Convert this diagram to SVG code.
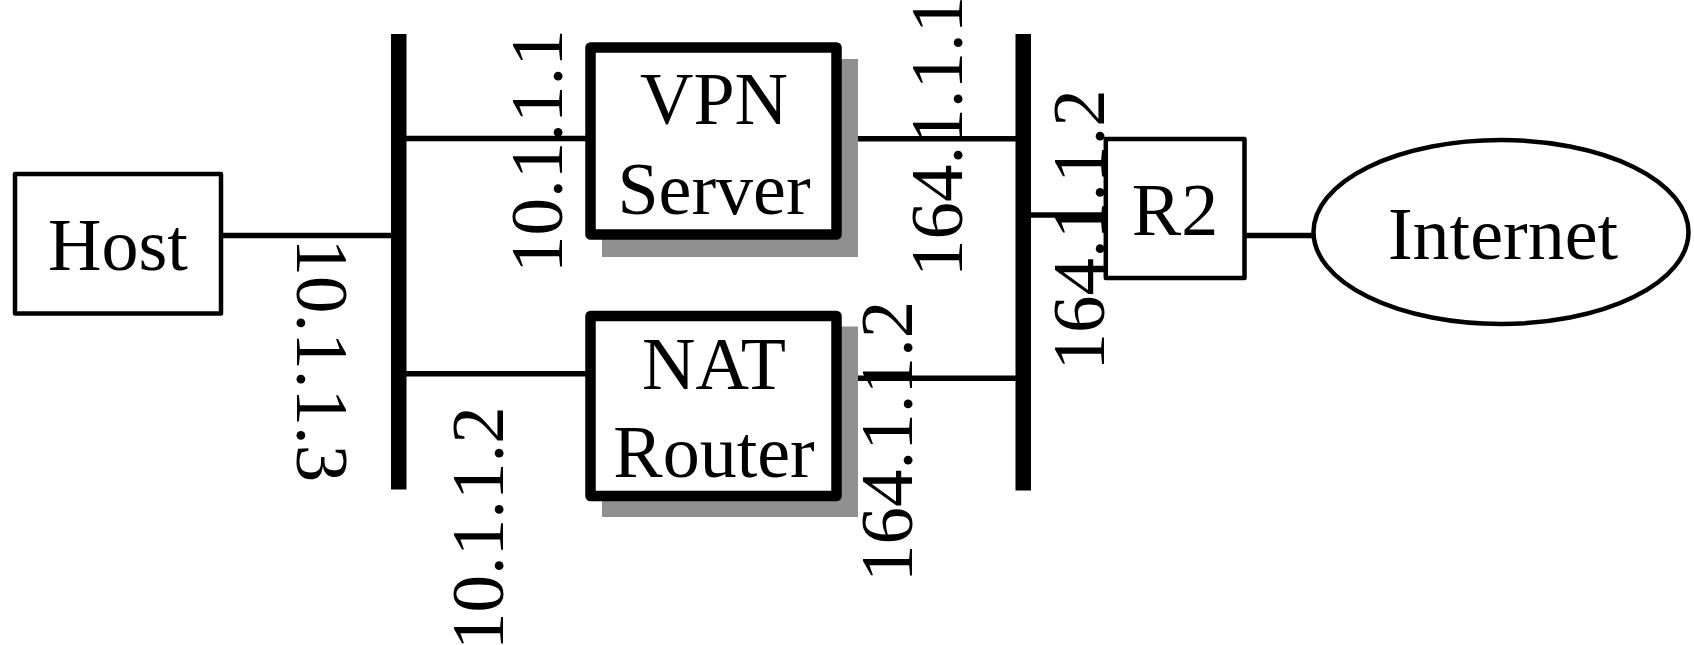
<svg xmlns="http://www.w3.org/2000/svg" width="1694" height="645" viewBox="0 0 1694 645">
<style>
  text { font-family: "Liberation Serif", "Times New Roman", serif; fill: #000; }
  .node { font-size: 74px; text-anchor: middle; }
  .ip { font-size: 75px; }
  .wire { stroke: #000; stroke-width: 5.5; fill: none; }
  .thin { fill: #fff; stroke: #000; stroke-width: 4.5; stroke-linejoin: round; }
  .thick { fill: #fff; stroke: #000; stroke-width: 10.5; stroke-linejoin: round; }
  .shadow { fill: #909090; }
  .bus { fill: #000; }
</style>
<g id="connectors">
  <line class="wire" x1="221" y1="235.5" x2="392" y2="235.5"/>
  <line class="wire" x1="405" y1="138.5" x2="590" y2="138.5"/>
  <line class="wire" x1="405" y1="373.7" x2="590" y2="373.7"/>
  <line class="wire" x1="836" y1="138.8" x2="1016" y2="138.8"/>
  <line class="wire" x1="836" y1="378.3" x2="1016" y2="378.3"/>
  <line class="wire" x1="1030" y1="215" x2="1106" y2="215"/>
  <line class="wire" x1="1244" y1="235.5" x2="1314" y2="235.5"/>
</g>
<g id="lan1"><rect class="bus" x="391" y="34" width="15.5" height="455.5"/></g>
<g id="lan2"><rect class="bus" x="1015.5" y="34" width="15.5" height="456.5"/></g>
<g id="host">
  <rect class="thin" x="15" y="174" width="206" height="139.5"/>
  <text class="node" x="118" y="270">Host</text>
</g>
<g id="vpn">
  <rect class="shadow" x="602" y="59" width="256" height="198"/>
  <rect class="thick" x="590.5" y="47.5" width="246" height="187"/>
  <text class="node" x="714" y="124">VPN</text>
  <text class="node" x="714" y="214">Server</text>
</g>
<g id="nat">
  <rect class="shadow" x="602" y="326.5" width="256" height="190.5"/>
  <rect class="thick" x="590.5" y="316" width="246" height="180"/>
  <text class="node" x="714" y="388.7">NAT</text>
  <text class="node" x="714" y="477">Router</text>
</g>
<g id="r2">
  <rect class="thin" x="1105.8" y="139" width="138.7" height="139"/>
  <text class="node" x="1175" y="235.3">R2</text>
</g>
<g id="internet">
  <ellipse class="thin" cx="1501" cy="232" rx="187.5" ry="92"/>
  <text class="node" x="1503" y="259">Internet</text>
</g>
<g id="labels">
  <text class="ip" transform="translate(297,238.4) rotate(90)">10.1.1.3</text>
  <text class="ip" transform="translate(562,273) rotate(-90)">10.1.1.1</text>
  <text class="ip" transform="translate(503,650) rotate(-90)">10.1.1.2</text>
  <text class="ip" transform="translate(961.5,277) rotate(-90)">164.1.1.1</text>
  <text class="ip" transform="translate(911.7,582) rotate(-90)">164.1.1.2</text>
  <text class="ip" transform="translate(1104,370.5) rotate(-90)">164.1.1.2</text>
</g>
</svg>
